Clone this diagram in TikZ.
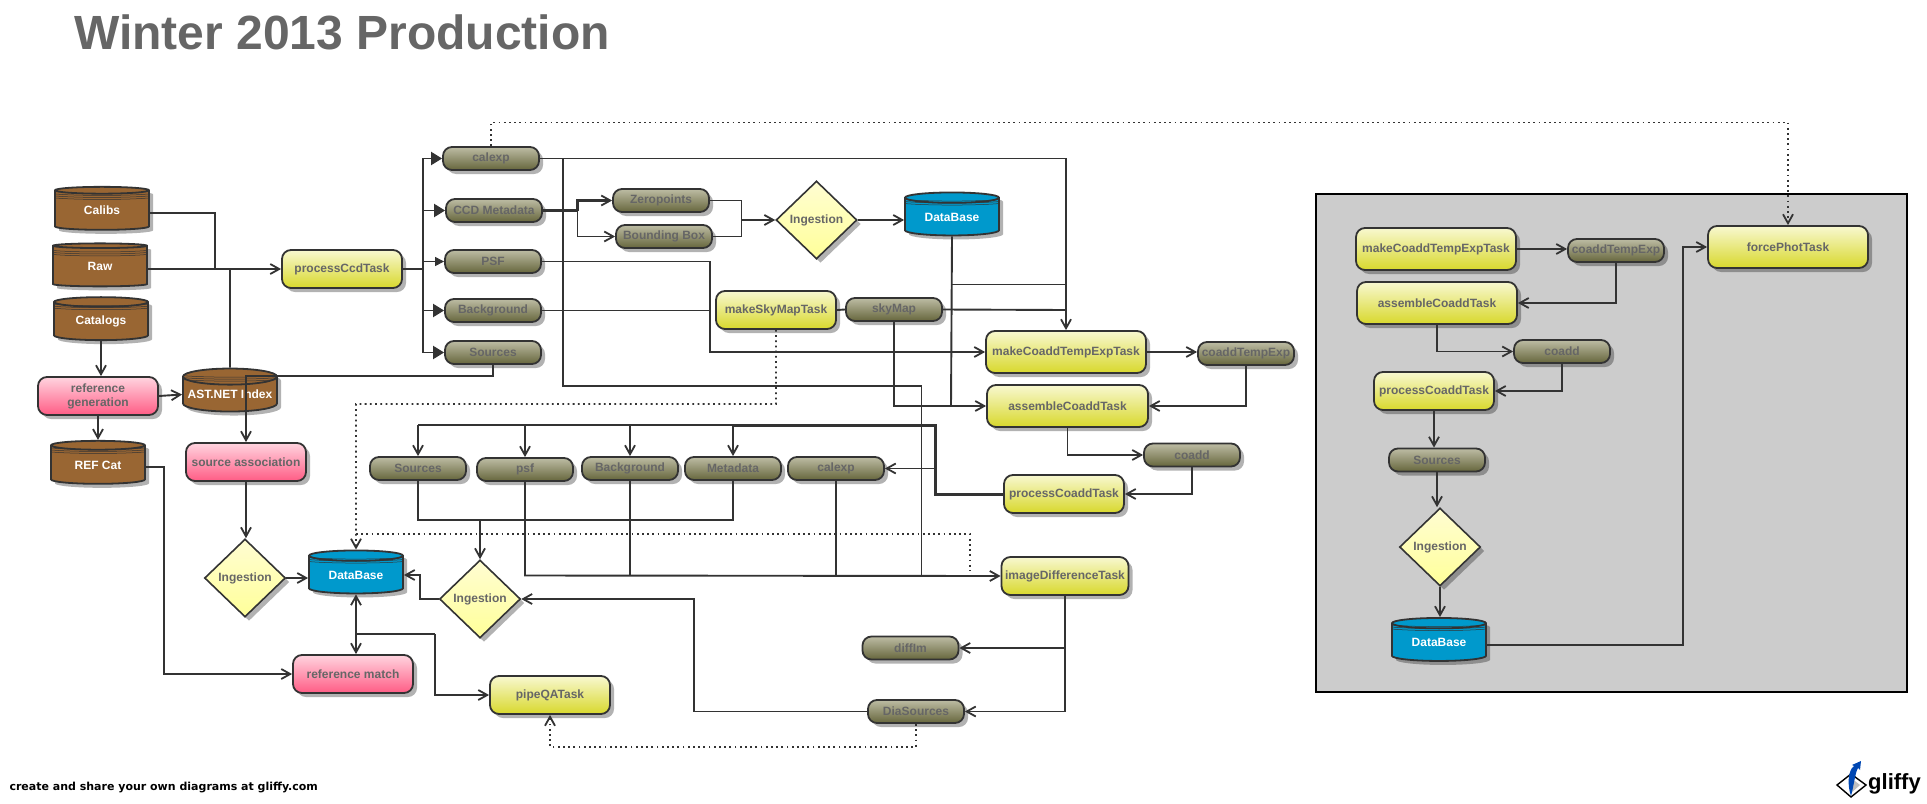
\documentclass[tikz,border=0pt]{standalone}
\usepackage{fontspec}
\setmainfont{Liberation Sans}
\newfontfamily\footfont{DejaVu Sans}
\usetikzlibrary{arrows.meta,shapes.geometric,shadows}
\definecolor{ink}{HTML}{333333}
\definecolor{labelgray}{HTML}{666666}
\definecolor{tasktop}{HTML}{F8F8D0}
\definecolor{taskbot}{HTML}{D8D82C}
\definecolor{datatop}{HTML}{BDBCA4}
\definecolor{databot}{HTML}{66663C}
\definecolor{pinktop}{HTML}{FFD4DF}
\definecolor{pinkbot}{HTML}{FF5C85}
\definecolor{choicetop}{HTML}{FFFDD2}
\definecolor{choicebot}{HTML}{FFFF99}
\definecolor{storebrown}{HTML}{996633}
\definecolor{storeblue}{HTML}{0099CC}
\tikzset{
  shadowed/.style={general shadow={fill=black,fill opacity=.3,shadow xshift=4pt,shadow yshift=-4pt}},
  box/.style={shadowed,draw=ink,line width=1.8pt,rectangle,rounded corners=9pt,inner sep=0pt,
    font=\fontsize{12}{14}\bfseries,text=labelgray,align=center},
  task/.style={box,minimum height=38,top color=tasktop,bottom color=taskbot},
  datum/.style={box,minimum width=96,minimum height=23,top color=datatop,bottom color=databot},
  stage/.style={box,minimum width=120,minimum height=38,top color=pinktop,bottom color=pinkbot},
  choice/.style={shadowed,draw=ink,line width=1.6pt,diamond,minimum width=81,minimum height=78,inner sep=0pt,
    top color=choicetop,bottom color=choicebot,font=\fontsize{12}{14}\bfseries,text=labelgray},
  store/.style={shadowed,draw=ink,line width=1.8pt,cylinder,shape border rotate=90,shape aspect=.19,
    minimum width=94,minimum height=43,inner sep=0pt,
    font=\fontsize{12}{14}\bfseries,text=white},
  brown/.style={store,fill=storebrown},
  blue/.style={store,fill=storeblue},
  tip/.style={-{Straight Barb[length=9pt,width=10pt,line width=1.8pt]}},
  link/.style={draw=ink,line width=1.9pt,tip},
  plain/.style={draw=ink,line width=1.9pt},
  heavy/.style={draw=ink,line width=3pt},
  fat/.style={draw=ink,line width=1.9pt,-{Triangle[length=11pt,width=13pt]}},
  dots/.style={draw=ink,line width=1.8pt,dash pattern=on 1.8pt off 3.4pt},
}
% three thin rims under the top of a store
\newcommand{\rims}[1]{
  \foreach \d in {8,10,12}
    \draw[ink,line width=.5pt] ([xshift=-47pt,yshift=-\d pt]#1.north) .. controls ([xshift=-25pt,yshift=-\d pt-2pt]#1.north) and ([xshift=25pt,yshift=-\d pt-2pt]#1.north) .. ([xshift=47pt,yshift=-\d pt]#1.north);
}
\begin{document}
\begin{tikzpicture}[x=1pt,y=-1pt]
    \useasboundingbox (0,0) rectangle (1927,803);

    \node[anchor=west,inner sep=0pt,text=labelgray,font=\fontsize{48}{50}\bfseries] (title) at (74,32) {Winter 2013 Production};
    \node[anchor=west,font=\footfont\fontsize{11}{13}\bfseries] (foot) at (6,787) {create and share your own diagrams at gliffy.com};

    % grey panel
    \node[draw=black,line width=1.2pt,fill=black!20,minimum width=591,minimum height=498,inner sep=0pt] (panel) at (1611.5,443) {};

    % inputs
    \node[brown] (calibs) at (102,210.5) {Calibs};
    \node[brown] (raw) at (100,266.5) {Raw};
    \node[brown] (catalogs) at (101,321.5) {Catalogs};
    \node[stage] (refgen) at (98,396) {reference\\generation};
    \node[brown] (astnet) at (230,394.5) {AST.NET Index};
    \node[brown] (refcat) at (98,465) {REF Cat};
    \node[stage] (srcassoc) at (246,462) {source association};
    \node[choice] (ingestA) at (245,578) {Ingestion};
    \node[blue] (dbA) at (356,575) {DataBase};
    \node[stage] (refmatch) at (353,674) {reference match};
    \node[task,minimum width=120] (pipeqa) at (550,695) {pipeQATask};
    \rims{calibs} \rims{raw} \rims{catalogs} \rims{astnet} \rims{refcat} \rims{dbA}

    % processCcd and its outputs
    \node[task,minimum width=120] (proccd) at (342,269) {processCcdTask};
    \node[datum] (calexpA) at (491,158.5) {calexp};
    \node[datum] (ccdmeta) at (494,210.5) {CCD Metadata};
    \node[datum] (psfA) at (493,261.5) {PSF};
    \node[datum] (bgA) at (493,310.5) {Background};
    \node[datum] (srcA) at (493,352.5) {Sources};
    \node[datum] (zero) at (661,200.5) {Zeropoints};
    \node[datum] (bbox) at (664,236.5) {Bounding Box};
    \node[choice] (ingestB) at (816.5,220) {Ingestion};
    \node[blue] (dbB) at (952,217) {DataBase};
    \rims{dbB}

    % coadd chain
    \node[task,minimum width=120] (skytask) at (776,310) {makeSkyMapTask};
    \node[datum] (skymap) at (894,309.5) {skyMap};
    \node[task,minimum width=160,minimum height=42] (tempexp) at (1066,352) {makeCoaddTempExpTask};
    \node[datum] (tempdata) at (1246,353.5) {coaddTempExp};
    \node[task,minimum width=161,minimum height=42] (assemble) at (1067.5,406) {assembleCoaddTask};
    \node[datum] (coadd) at (1192,455) {coadd};
    \node[task,minimum width=120] (proccoadd) at (1064,494) {processCoaddTask};

    % difference row
    \node[datum] (srcB) at (418,468.5) {Sources};
    \node[datum] (psfB) at (525,469.5) {psf};
    \node[datum] (bgB) at (630,468.5) {Background};
    \node[datum] (metaB) at (733,468.5) {Metadata};
    \node[datum] (calexpB) at (836,468.5) {calexp};
    \node[choice] (ingestC) at (480,599) {Ingestion};
    \node[task,minimum width=127] (imdiff) at (1065,576) {imageDifferenceTask};
    \node[datum] (diffim) at (910.5,648) {diffIm};
    \node[datum] (diasrc) at (916,711.5) {DiaSources};

    % panel contents
    \node[task,minimum width=160,minimum height=42] (ptempexp) at (1436,249) {makeCoaddTempExpTask};
    \node[datum] (ptempdata) at (1616,250.5) {coaddTempExp};
    \node[task,minimum width=160,minimum height=42] (passemble) at (1437,303) {assembleCoaddTask};
    \node[datum] (pcoadd) at (1562,351.5) {coadd};
    \node[task,minimum width=120] (pproccoadd) at (1434,391) {processCoaddTask};
    \node[datum] (psrc) at (1437,460) {Sources};
    \node[choice] (pingest) at (1440,547) {Ingestion};
    \node[blue] (pdb) at (1439,642.5) {DataBase};
    \node[task,minimum width=160,minimum height=42] (force) at (1788,247) {forcePhotTask};
    \rims{pdb}

    % junctions
    \coordinate (jraw) at (215,269);
    \coordinate (jast) at (230,269);
    \coordinate (jout) at (423,269);
    \coordinate (jsrc) at (246,376);
    \coordinate (jccd) at (577.5,210.5);
    \coordinate (jing) at (741.5,220);
    \coordinate (jrow) at (480,520);
    \coordinate (jqa) at (356,634);
    \coordinate (jqb) at (435,634);
    \coordinate (jcalA) at (563,158.5);
    \coordinate (jcalB) at (563,386);
    \coordinate (jcalC) at (921.5,386);
    \coordinate (jcalD) at (921.5,576);
    \coordinate (jpsf) at (710,261.5);
    \coordinate (jpsfB) at (710,352);
    \coordinate (jdbA) at (951,406);
    \coordinate (jdbB) at (951,284.5);
    \coordinate (jsky) at (1066,310);
    \coordinate (jtop) at (1066,158.5);
    \coordinate (jskyB) at (894,406);
    \coordinate (jbusA) at (935,494);
    \coordinate (jbusB) at (935,425);
    \coordinate (jbusC) at (418,425);
    \coordinate (jbusD) at (935,468.5);
    \coordinate (jbg) at (630,575.5);
    \coordinate (jcal) at (836,575.5);
    \coordinate (jpb) at (525,575.5);
    \coordinate (jdiff) at (1065,648);
    \coordinate (jdia) at (694,711.5);
    \coordinate (jdotA) at (491,122.5);
    \coordinate (jdotB) at (1788,122.5);
    \coordinate (jdotC) at (776,404);
    \coordinate (jdotD) at (356,404);
    \coordinate (jdotE) at (356,534);
    \coordinate (jdotF) at (970,534);
    \coordinate (jdotG) at (970,571);
    \coordinate (jdotH) at (916,747);
    \coordinate (jdotI) at (550,747);
    \coordinate (jref) at (164,467);
    \coordinate (jrefB) at (164,674);
    \coordinate (jingC) at (420,599);
    \coordinate (jpanA) at (1683,645);
    \coordinate (jpanB) at (1683,247);

    % left side
    \draw[plain] (calibs.east |- 0,213) -| (jraw);
    \draw[link] (raw.east |- jraw) -- (proccd.west);
    \draw[plain] (jast) -- (astnet.north);
    \draw[link] (catalogs.south) -- (catalogs.south |- refgen.north);
    \draw[link] (refgen.east) -- (astnet.west);
    \draw[link] (refgen.south) -- (refcat.north);
    \draw[link] (srcA.south) |- (jsrc) -- (srcassoc.north);
    \draw[link] (srcassoc.south) -- (srcassoc.south |- ingestA.north);
    \draw[link] (ingestA.east) -- (ingestA.east -| dbA.west);
    \draw[link] (ingestC.west) -- (jingC) |- (dbA.east);
    \draw[link,{Straight Barb[length=9pt,width=10pt,line width=1.8pt]}-{Straight Barb[length=9pt,width=10pt,line width=1.8pt]}] (dbA.south) -- (dbA.south |- refmatch.north);
    \draw[plain] (jqa) -- (jqb);
    \draw[link] (jqb) |- (pipeqa.west);
    \draw[link] (refcat.east |- jref) -- (jref) -- (jrefB) -- (refmatch.west);

    % processCcd outputs
    \draw[plain] (proccd.east) -- (jout);
    \draw[fat] (jout) |- (calexpA.west);
    \draw[fat] (jout) |- (ccdmeta.west);
    \draw[draw=ink,line width=1pt,-{Triangle[length=9pt,width=9pt]}] (jout) |- (psfA.west);
    \draw[fat] (jout) |- (bgA.west);
    \draw[fat] (jout) |- (srcA.west);

    % metadata to database
    \draw[heavy] (ccdmeta.east) -- (jccd);
    \draw[link,line width=3pt] (jccd) |- (zero.west);
    \draw[link] (jccd) |- (bbox.west);
    \draw[ink,line width=.8pt] (zero.east) -| (jing);
    \draw[plain] (bbox.east) -| (jing);
    \draw[link] (jing) -- (ingestB.west);
    \draw[link] (ingestB.east) -- (ingestB.east -| dbB.west);

    % inputs of the coadd tasks
    \draw[link] (calexpA.east) -- (jtop) -- (tempexp.north);
    \draw[plain] (jcalA) -- (jcalB) -- (jcalC) -- (jcalD);
    \draw[link] (psfA.east) -- (jpsf) -- (jpsfB) -- (tempexp.west);
    \draw[plain] (bgA.east) -- (jpsf |- bgA.east);
    \draw[plain] (skytask.east) -- (skymap.west);
    \draw[plain] (skymap.east) -- (jsky);
    \draw[link] (skymap.south) -- (jskyB) -- (assemble.west);
    \draw[plain] (dbB.south) -- (jdbA);
    \draw[plain] (jdbB) -- (jdbB -| jsky);

    % coadd chain
    \draw[link] (tempexp.east) -- (tempexp.east -| tempdata.west);
    \draw[link] (tempdata.south) |- (assemble.east);
    \draw[link] (assemble.south) |- (coadd.west);
    \draw[link] (coadd.south) |- (proccoadd.east);
    \draw[heavy] (proccoadd.west) -- (jbusA) -- (jbusB) -- (metaB.north |- jbusB);
    \draw[plain] (metaB.north |- jbusC) -- (jbusC);
    \draw[link] (jbusC) -- (srcB.north);
    \draw[link] (psfB.north |- jbusC) -- (psfB.north);
    \draw[link] (bgB.north |- jbusC) -- (bgB.north);
    \draw[link] (metaB.north |- jbusC) -- (metaB.north);
    \draw[link] (jbusD) -- (calexpB.east);

    % difference row
    \draw[plain] (srcB.south) |- (jrow) -| (metaB.south);
    \draw[link] (jrow) -- (ingestC.north);
    \draw[link] (psfB.south) -- (jpb) -- (imdiff.west);
    \draw[plain] (bgB.south) -- (jbg);
    \draw[plain] (calexpB.south) -- (jcal);
    \draw[link] (imdiff.south) |- (diasrc.east);
    \draw[link] (jdiff) -- (diffim.east);
    \draw[link] (diasrc.west) -- (jdia) |- (ingestC.east);

    % dotted
    \draw[dots,tip] (calexpA.north) -- (jdotA) -- (jdotB) -- (force.north);
    \draw[dots,tip] (skytask.south) -- (jdotC) -- (jdotD) -- (dbA.north);
    \draw[dots] (jdotE) -- (jdotF) -- (jdotG);
    \draw[dots,tip] (diasrc.south) -- (jdotH) -- (jdotI) -- (pipeqa.south);

    % panel
    \draw[link] (ptempexp.east) -- (ptempexp.east -| ptempdata.west);
    \draw[link] (ptempdata.south) |- (passemble.east);
    \draw[link] (passemble.south) |- (pcoadd.west);
    \draw[link] (pcoadd.south) |- (pproccoadd.east);
    \draw[link] (pproccoadd.south) -- (pproccoadd.south |- psrc.north);
    \draw[link] (psrc.south) -- (psrc.south |- pingest.north);
    \draw[link] (pingest.south) -- (pingest.south |- pdb.north);
    \draw[link] (pdb.east |- jpanA) -- (jpanA) -- (jpanB) -- (force.west);

    % logo
    \node[anchor=west,font=\fontsize{22}{24}\bfseries,text=black,inner sep=0pt] (logo) at (1868,784) {gliffy};
    \draw[black,line width=1.4pt,fill=white] (1837,785) -- (1851,774) -- (1866,785) -- (1851,797) -- cycle;
    \fill[black!25] (1851,778) -- (1860,785) -- (1851,793) -- cycle;
    \fill[blue!60!cyan!70!black] (1851,796) .. controls (1847,785) and (1848,770) .. (1854,766) -- (1852,765) -- (1861,761) -- (1860,770) -- (1858,768) .. controls (1855,773) and (1854,785) .. (1851,796) -- cycle;
\end{tikzpicture}
\end{document}
